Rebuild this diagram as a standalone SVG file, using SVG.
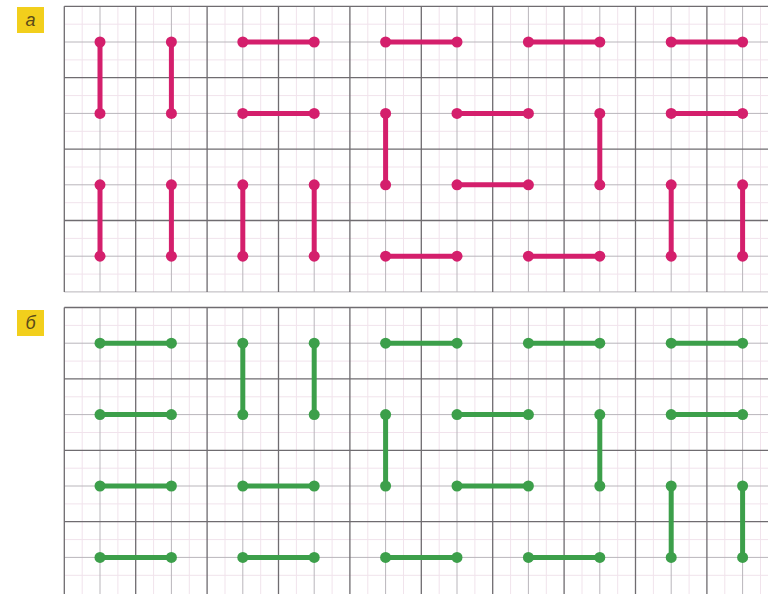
<svg xmlns="http://www.w3.org/2000/svg" width="768" height="594" viewBox="0 0 768 594">
<style>
.bg{fill:#ffffff}
.faint{stroke:#f1e3ec;stroke-width:1;fill:none}
.minor{stroke:#b9b6bb;stroke-width:1;fill:none}
.major{stroke:#6f6c70;stroke-width:1.3;fill:none}
.pk line{stroke:#d41f6c;stroke-width:5;stroke-linecap:round}
.pk circle{fill:#d41f6c}
.gr line{stroke:#3c9f4a;stroke-width:5;stroke-linecap:round}
.gr circle{fill:#3c9f4a}
.lab rect{fill:#f2cf1c}
.lab text{font-family:"Liberation Sans",Arial,sans-serif;font-size:18px;font-style:italic;fill:#5a4a1a}
</style>
<rect x="0" y="0" width="768" height="594" fill="#ffffff"/>

<!-- Panel a grid -->
<g id="grid-a">
<path class="faint" d="M82.2 6.3V291.9M117.9 6.3V291.9M153.6 6.3V291.9M189.3 6.3V291.9M225 6.3V291.9M260.7 6.3V291.9M296.4 6.3V291.9M332.1 6.3V291.9M367.8 6.3V291.9M403.5 6.3V291.9M439.2 6.3V291.9M474.9 6.3V291.9M510.6 6.3V291.9M546.3 6.3V291.9M582 6.3V291.9M617.7 6.3V291.9M653.4 6.3V291.9M689.1 6.3V291.9M724.8 6.3V291.9M760.5 6.3V291.9M64.3 24.2H768M64.3 59.9H768M64.3 95.6H768M64.3 131.3H768M64.3 167H768M64.3 202.7H768M64.3 238.4H768M64.3 274.1H768"/>
<path class="minor" d="M100 6.3V291.9M171.4 6.3V291.9M242.8 6.3V291.9M314.2 6.3V291.9M385.6 6.3V291.9M457 6.3V291.9M528.4 6.3V291.9M599.8 6.3V291.9M671.2 6.3V291.9M742.6 6.3V291.9M64.3 42H768M64.3 113.4H768M64.3 184.8H768M64.3 256.2H768M64.3 291.9H768"/>
<path class="major" d="M64.3 6.3V291.9M135.7 6.3V291.9M207.1 6.3V291.9M278.5 6.3V291.9M349.9 6.3V291.9M421.3 6.3V291.9M492.7 6.3V291.9M564.1 6.3V291.9M635.5 6.3V291.9M706.9 6.3V291.9M64.3 6.3H768M64.3 77.7H768M64.3 149.1H768M64.3 220.5H768"/>
</g>

<!-- Panel b grid -->
<g id="grid-b">
<path class="faint" d="M82.2 307.5V594M117.9 307.5V594M153.6 307.5V594M189.3 307.5V594M225 307.5V594M260.7 307.5V594M296.4 307.5V594M332.1 307.5V594M367.8 307.5V594M403.5 307.5V594M439.2 307.5V594M474.9 307.5V594M510.6 307.5V594M546.3 307.5V594M582 307.5V594M617.7 307.5V594M653.4 307.5V594M689.1 307.5V594M724.8 307.5V594M760.5 307.5V594M64.3 325.4H768M64.3 361.1H768M64.3 396.8H768M64.3 432.5H768M64.3 468.2H768M64.3 503.9H768M64.3 539.6H768M64.3 575.3H768"/>
<path class="minor" d="M100 307.5V594M171.4 307.5V594M242.8 307.5V594M314.2 307.5V594M385.6 307.5V594M457 307.5V594M528.4 307.5V594M599.8 307.5V594M671.2 307.5V594M742.6 307.5V594M64.3 343.2H768M64.3 414.6H768M64.3 486H768M64.3 557.4H768"/>
<path class="major" d="M64.3 307.5V594M135.7 307.5V594M207.1 307.5V594M278.5 307.5V594M349.9 307.5V594M421.3 307.5V594M492.7 307.5V594M564.1 307.5V594M635.5 307.5V594M706.9 307.5V594M64.3 307.5H768M64.3 378.9H768M64.3 450.3H768M64.3 521.7H768"/>
</g>

<!-- Labels -->
<g id="label-a" class="lab"><rect x="17" y="7" width="27" height="26"/><text x="30.5" y="26" text-anchor="middle">a</text></g>
<g id="label-b" class="lab"><rect x="17" y="310" width="27" height="26"/><text x="30.5" y="329" text-anchor="middle">б</text></g>

<!-- Panel a segments -->
<g id="segments-a" class="pk">
<g id="a1"><line x1="100" y1="42" x2="100" y2="113.4"/><circle cx="100" cy="42" r="5.5"/><circle cx="100" cy="113.4" r="5.5"/></g>
<g id="a2"><line x1="171.4" y1="42" x2="171.4" y2="113.4"/><circle cx="171.4" cy="42" r="5.5"/><circle cx="171.4" cy="113.4" r="5.5"/></g>
<g id="a3"><line x1="242.8" y1="42" x2="314.2" y2="42"/><circle cx="242.8" cy="42" r="5.5"/><circle cx="314.2" cy="42" r="5.5"/></g>
<g id="a4"><line x1="242.8" y1="113.4" x2="314.2" y2="113.4"/><circle cx="242.8" cy="113.4" r="5.5"/><circle cx="314.2" cy="113.4" r="5.5"/></g>
<g id="a5"><line x1="385.6" y1="42" x2="457" y2="42"/><circle cx="385.6" cy="42" r="5.5"/><circle cx="457" cy="42" r="5.5"/></g>
<g id="a6"><line x1="528.4" y1="42" x2="599.8" y2="42"/><circle cx="528.4" cy="42" r="5.5"/><circle cx="599.8" cy="42" r="5.5"/></g>
<g id="a7"><line x1="671.2" y1="42" x2="742.6" y2="42"/><circle cx="671.2" cy="42" r="5.5"/><circle cx="742.6" cy="42" r="5.5"/></g>
<g id="a8"><line x1="385.6" y1="113.4" x2="385.6" y2="184.8"/><circle cx="385.6" cy="113.4" r="5.5"/><circle cx="385.6" cy="184.8" r="5.5"/></g>
<g id="a9"><line x1="457" y1="113.4" x2="528.4" y2="113.4"/><circle cx="457" cy="113.4" r="5.5"/><circle cx="528.4" cy="113.4" r="5.5"/></g>
<g id="a10"><line x1="457" y1="184.8" x2="528.4" y2="184.8"/><circle cx="457" cy="184.8" r="5.5"/><circle cx="528.4" cy="184.8" r="5.5"/></g>
<g id="a11"><line x1="599.8" y1="113.4" x2="599.8" y2="184.8"/><circle cx="599.8" cy="113.4" r="5.5"/><circle cx="599.8" cy="184.8" r="5.5"/></g>
<g id="a12"><line x1="671.2" y1="113.4" x2="742.6" y2="113.4"/><circle cx="671.2" cy="113.4" r="5.5"/><circle cx="742.6" cy="113.4" r="5.5"/></g>
<g id="a13"><line x1="100" y1="184.8" x2="100" y2="256.2"/><circle cx="100" cy="184.8" r="5.5"/><circle cx="100" cy="256.2" r="5.5"/></g>
<g id="a14"><line x1="171.4" y1="184.8" x2="171.4" y2="256.2"/><circle cx="171.4" cy="184.8" r="5.5"/><circle cx="171.4" cy="256.2" r="5.5"/></g>
<g id="a15"><line x1="242.8" y1="184.8" x2="242.8" y2="256.2"/><circle cx="242.8" cy="184.8" r="5.5"/><circle cx="242.8" cy="256.2" r="5.5"/></g>
<g id="a16"><line x1="314.2" y1="184.8" x2="314.2" y2="256.2"/><circle cx="314.2" cy="184.8" r="5.5"/><circle cx="314.2" cy="256.2" r="5.5"/></g>
<g id="a17"><line x1="385.6" y1="256.2" x2="457" y2="256.2"/><circle cx="385.6" cy="256.2" r="5.5"/><circle cx="457" cy="256.2" r="5.5"/></g>
<g id="a18"><line x1="528.4" y1="256.2" x2="599.8" y2="256.2"/><circle cx="528.4" cy="256.2" r="5.5"/><circle cx="599.8" cy="256.2" r="5.5"/></g>
<g id="a19"><line x1="671.2" y1="184.8" x2="671.2" y2="256.2"/><circle cx="671.2" cy="184.8" r="5.5"/><circle cx="671.2" cy="256.2" r="5.5"/></g>
<g id="a20"><line x1="742.6" y1="184.8" x2="742.6" y2="256.2"/><circle cx="742.6" cy="184.8" r="5.5"/><circle cx="742.6" cy="256.2" r="5.5"/></g>
</g>

<!-- Panel b segments -->
<g id="segments-b" class="gr">
<g id="b1"><line x1="100" y1="343.2" x2="171.4" y2="343.2"/><circle cx="100" cy="343.2" r="5.5"/><circle cx="171.4" cy="343.2" r="5.5"/></g>
<g id="b2"><line x1="100" y1="414.6" x2="171.4" y2="414.6"/><circle cx="100" cy="414.6" r="5.5"/><circle cx="171.4" cy="414.6" r="5.5"/></g>
<g id="b3"><line x1="100" y1="486" x2="171.4" y2="486"/><circle cx="100" cy="486" r="5.5"/><circle cx="171.4" cy="486" r="5.5"/></g>
<g id="b4"><line x1="100" y1="557.4" x2="171.4" y2="557.4"/><circle cx="100" cy="557.4" r="5.5"/><circle cx="171.4" cy="557.4" r="5.5"/></g>
<g id="b5"><line x1="242.8" y1="343.2" x2="242.8" y2="414.6"/><circle cx="242.8" cy="343.2" r="5.5"/><circle cx="242.8" cy="414.6" r="5.5"/></g>
<g id="b6"><line x1="314.2" y1="343.2" x2="314.2" y2="414.6"/><circle cx="314.2" cy="343.2" r="5.5"/><circle cx="314.2" cy="414.6" r="5.5"/></g>
<g id="b7"><line x1="242.8" y1="486" x2="314.2" y2="486"/><circle cx="242.8" cy="486" r="5.5"/><circle cx="314.2" cy="486" r="5.5"/></g>
<g id="b8"><line x1="242.8" y1="557.4" x2="314.2" y2="557.4"/><circle cx="242.8" cy="557.4" r="5.5"/><circle cx="314.2" cy="557.4" r="5.5"/></g>
<g id="b9"><line x1="385.6" y1="343.2" x2="457" y2="343.2"/><circle cx="385.6" cy="343.2" r="5.5"/><circle cx="457" cy="343.2" r="5.5"/></g>
<g id="b10"><line x1="528.4" y1="343.2" x2="599.8" y2="343.2"/><circle cx="528.4" cy="343.2" r="5.5"/><circle cx="599.8" cy="343.2" r="5.5"/></g>
<g id="b11"><line x1="671.2" y1="343.2" x2="742.6" y2="343.2"/><circle cx="671.2" cy="343.2" r="5.5"/><circle cx="742.6" cy="343.2" r="5.5"/></g>
<g id="b12"><line x1="385.6" y1="414.6" x2="385.6" y2="486"/><circle cx="385.6" cy="414.6" r="5.5"/><circle cx="385.6" cy="486" r="5.5"/></g>
<g id="b13"><line x1="457" y1="414.6" x2="528.4" y2="414.6"/><circle cx="457" cy="414.6" r="5.5"/><circle cx="528.4" cy="414.6" r="5.5"/></g>
<g id="b14"><line x1="457" y1="486" x2="528.4" y2="486"/><circle cx="457" cy="486" r="5.5"/><circle cx="528.4" cy="486" r="5.5"/></g>
<g id="b15"><line x1="599.8" y1="414.6" x2="599.8" y2="486"/><circle cx="599.8" cy="414.6" r="5.5"/><circle cx="599.8" cy="486" r="5.5"/></g>
<g id="b16"><line x1="671.2" y1="414.6" x2="742.6" y2="414.6"/><circle cx="671.2" cy="414.6" r="5.5"/><circle cx="742.6" cy="414.6" r="5.5"/></g>
<g id="b17"><line x1="385.6" y1="557.4" x2="457" y2="557.4"/><circle cx="385.6" cy="557.4" r="5.5"/><circle cx="457" cy="557.4" r="5.5"/></g>
<g id="b18"><line x1="528.4" y1="557.4" x2="599.8" y2="557.4"/><circle cx="528.4" cy="557.4" r="5.5"/><circle cx="599.8" cy="557.4" r="5.5"/></g>
<g id="b19"><line x1="671.2" y1="486" x2="671.2" y2="557.4"/><circle cx="671.2" cy="486" r="5.5"/><circle cx="671.2" cy="557.4" r="5.5"/></g>
<g id="b20"><line x1="742.6" y1="486" x2="742.6" y2="557.4"/><circle cx="742.6" cy="486" r="5.5"/><circle cx="742.6" cy="557.4" r="5.5"/></g>
</g>
</svg>
